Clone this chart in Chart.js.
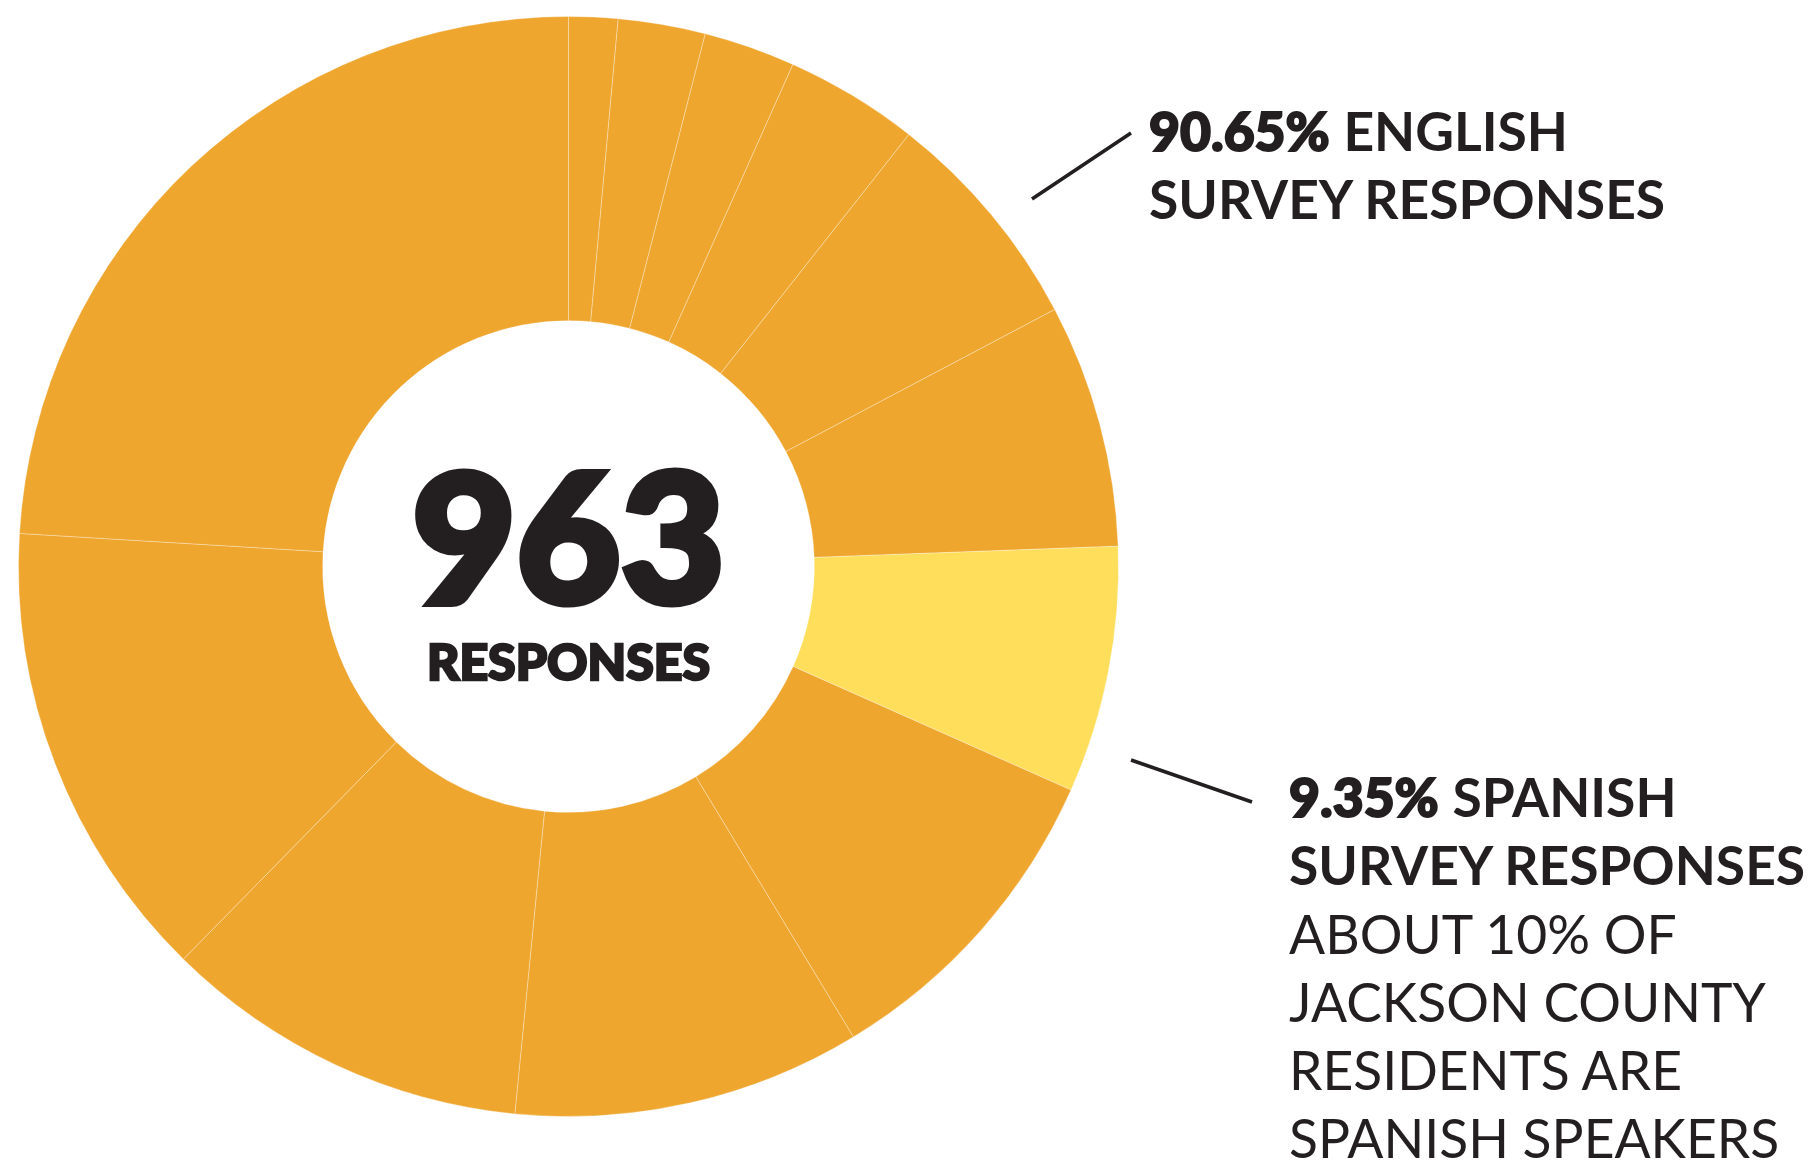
<!DOCTYPE html>
<html>
<head>
<meta charset="utf-8">
<script src="https://cdn.jsdelivr.net/npm/chart.js@4.4.0/dist/chart.umd.min.js"></script>
<style>
  html, body { margin: 0; padding: 0; background: #fff; }
  #wrap { position: relative; width: 1815px; height: 1161px; overflow: hidden; }
  #chart { position: absolute; left: 0; top: 0; }
  .lbl { position: absolute; font-family: Lato, "Open Sans", sans-serif; color: #231f20; white-space: nowrap; }
  .num { font-weight: 900; -webkit-text-stroke: 2px #231f20; }
  .head { font-weight: 700; }
  .body { font-weight: 400; }
  #english, #spanish { font-size: 53.4px; line-height: 68.3px; }
  #english { left: 1149px; top: 96px; }
  #spanish { left: 1289px; top: 762px; }
  #total { left: 268.5px; width: 600px; text-align: center; top: 441px; font-size: 180px; line-height: 184px; font-weight: 900; -webkit-text-stroke: 7px #231f20; }
  #totalSub { left: 268.5px; width: 600px; text-align: center; top: 636px; font-size: 50px; line-height: 51px; font-weight: 900; -webkit-text-stroke: 2.5px #231f20; }
</style>
</head>
<body>
<div id="wrap">
  <canvas id="chart" width="1815" height="1161"></canvas>
  <div class="lbl" id="total">963</div>
  <div class="lbl" id="totalSub">RESPONSES</div>
  <div class="lbl" id="english">
    <div><span class="num">90.65%</span> <span class="head">ENGLISH</span></div>
    <div class="head">SURVEY RESPONSES</div>
  </div>
  <div class="lbl" id="spanish">
    <div><span class="num">9.35%</span> <span class="head">SPANISH</span></div>
    <div class="head">SURVEY RESPONSES</div>
    <div class="body">ABOUT 10% OF</div>
    <div class="body">JACKSON COUNTY</div>
    <div class="body">RESIDENTS ARE</div>
    <div class="body">SPANISH SPEAKERS</div>
  </div>
</div>
<script>
// slices clockwise from 12 o'clock, share of the ring (%)
const segmentLabels = ['A', 'B', 'C', 'D', 'E', 'F', 'Spanish', 'G', 'H', 'I', 'J', 'K'];
const segmentValues = [1.44, 2.56, 2.69, 3.93, 6.64, 7.15, 7.25, 9.67, 10.22, 10.79, 13.61, 24.04];
const highlight = 'Spanish';

const ORANGE = '#eea62f';
const YELLOW = '#fede5b';
const INK = '#231f20';

// leader lines from the ring out to the notes
const leaders = [
  [1032, 199, 1131, 133],
  [1131, 760, 1252, 802]
];

const leaderPlugin = {
  id: 'leaders',
  afterDraw(chart) {
    const ctx = chart.ctx;
    ctx.save();
    ctx.strokeStyle = INK;
    ctx.lineWidth = 3.5;
    leaders.forEach(l => {
      ctx.beginPath();
      ctx.moveTo(l[0], l[1]);
      ctx.lineTo(l[2], l[3]);
      ctx.stroke();
    });
    ctx.restore();
  }
};

new Chart(document.getElementById('chart'), {
  type: 'doughnut',
  data: {
    labels: segmentLabels,
    datasets: [{
      data: segmentValues,
      backgroundColor: segmentLabels.map(l => l === highlight ? YELLOW : ORANGE),
      borderColor: 'rgba(255,255,255,0.3)',
      borderWidth: 1
    }]
  },
  options: {
    responsive: false,
    animation: false,
    cutout: '44.7%',
    layout: { padding: { left: 18, top: 16, right: 696, bottom: 44 } },
    plugins: {
      legend: { display: false },
      tooltip: { enabled: false }
    }
  },
  plugins: [leaderPlugin]
});
</script>
</body>
</html>
